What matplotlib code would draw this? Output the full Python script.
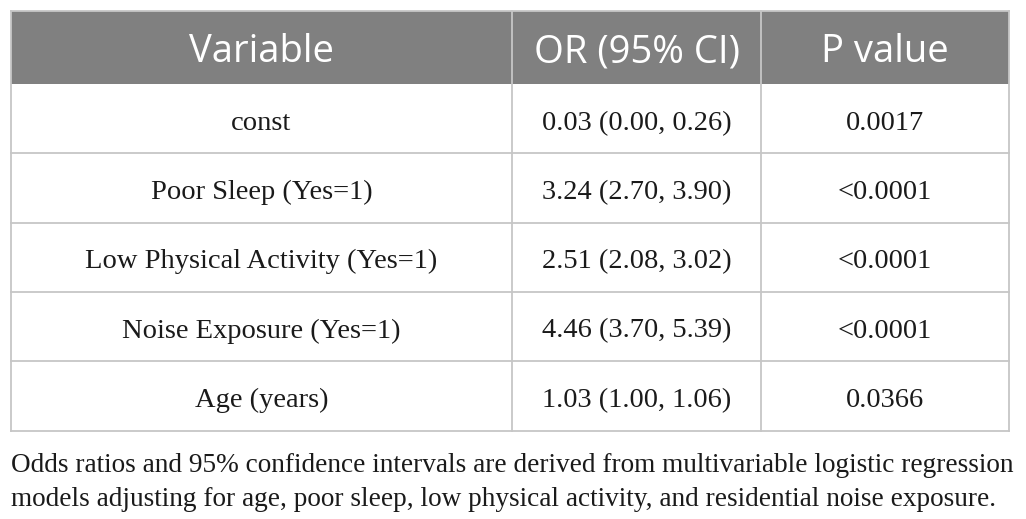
import matplotlib
matplotlib.use('Agg')
import matplotlib.pyplot as plt
from matplotlib.patches import Rectangle

# table content
headers = ['Variable', 'OR (95% CI)', 'P value']
variables = ['const', 'Poor Sleep (Yes=1)', 'Low Physical Activity (Yes=1)',
             'Noise Exposure (Yes=1)', 'Age (years)']
or_ci = ['0.03 (0.00, 0.26)', '3.24 (2.70, 3.90)', '2.51 (2.08, 3.02)',
         '4.46 (3.70, 5.39)', '1.03 (1.00, 1.06)']
p_values = ['0.0017', '<0.0001', '<0.0001', '<0.0001', '0.0366']
footnote = ['Odds ratios and 95% confidence intervals are derived from multivariable logistic regression',
            'models adjusting for age, poor sleep, low physical activity, and residential noise exposure.']

W, H = 1026, 519
fig = plt.figure(figsize=(W / 100, H / 100), dpi=100)
ax = fig.add_axes([0, 0, 1, 1])
ax.set_xlim(0, W)
ax.set_ylim(H, 0)
ax.axis('off')

# layout in pixels
col_x = [11, 512, 761, 1009]
top, head_bot = 11, 84
row_h = 69.3
line_col = '#c6c6c6'

# header
ax.add_patch(Rectangle((col_x[0], top), col_x[-1] - col_x[0], head_bot - top,
                       facecolor='#808080', edgecolor='none'))
for i, h in enumerate(headers):
    cx = (col_x[i] + col_x[i + 1]) / 2
    ax.text(cx, 62, h, ha='center', va='baseline',
            color='white', fontsize=27.5, family='Open Sans')

# body rows
n = len(variables)
bottom = head_bot + n * row_h
for r in range(n):
    cy = head_bot + (r + 0.5) * row_h
    for i, val in enumerate([variables[r], or_ci[r], p_values[r]]):
        cx = (col_x[i] + col_x[i + 1]) / 2
        ax.text(cx, cy + 11, val, ha='center', va='baseline', color='#1a1a1a',
                fontsize=20.5, family='Liberation Serif')
    ax.plot([col_x[0], col_x[-1]], [head_bot + (r + 1) * row_h] * 2,
            color=line_col, lw=1.3)

# outer border and column lines
ax.plot([col_x[0], col_x[-1]], [top, top], color=line_col, lw=1.3)
for x in col_x:
    ax.plot([x, x], [top, bottom], color=line_col, lw=1.3)

# footnote
for k, line in enumerate(footnote):
    ax.text(col_x[0], 465 + k * 34, line, ha='left', va='center',
            color='#1a1a1a', fontsize=19.6, family='Liberation Serif')

fig.savefig('out.png', dpi=100)
